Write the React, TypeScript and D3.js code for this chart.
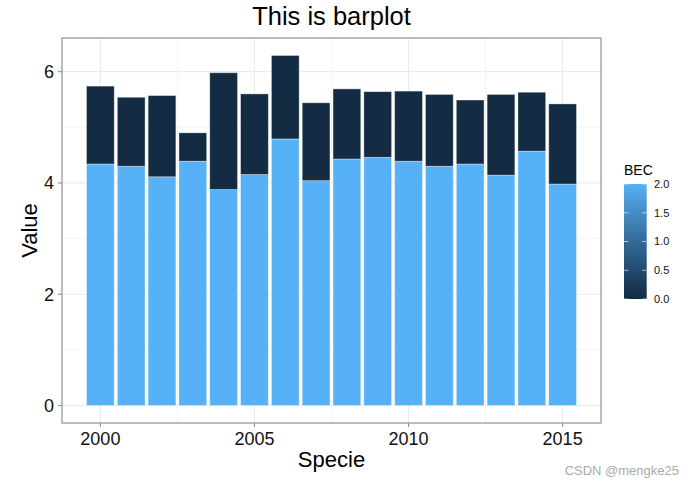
import React from "react";
import * as d3 from "d3";

const years = [2000, 2001, 2002, 2003, 2004, 2005, 2006, 2007, 2008, 2009, 2010, 2011, 2012, 2013, 2014, 2015];
const lightValues = [4.34, 4.30, 4.11, 4.39, 3.88, 4.15, 4.79, 4.04, 4.43, 4.46, 4.39, 4.30, 4.34, 4.14, 4.57, 3.98];
const darkValues = [1.40, 1.24, 1.46, 0.51, 2.10, 1.45, 1.50, 1.40, 1.26, 1.18, 1.26, 1.29, 1.15, 1.45, 1.06, 1.44];
const becLevels = [2, 0];
const yTicks = [0, 2, 4, 6];
const yMinor = [1, 3, 5];
const xTicks = [2000, 2005, 2010, 2015];
const xMinor = [2002.5, 2007.5, 2012.5];
const legendTicks = [0, 0.5, 1.0, 1.5, 2.0];

const W = 694, H = 487;
const P = { left: 62, right: 601, top: 38, bottom: 423 };
const FONT = "'Liberation Sans', Arial, sans-serif";

export default function App() {
  const totals = years.map((_, i) => lightValues[i] + darkValues[i]);
  const xLo = years[0] - 0.45, xHi = years[years.length - 1] + 0.45;
  const xPad = (xHi - xLo) * 0.05;
  const x = d3.scaleLinear().domain([xLo - xPad, xHi + xPad]).range([P.left, P.right]);
  const yMax = d3.max(totals) as number;
  const yPad = yMax * 0.05;
  const y = d3.scaleLinear().domain([-yPad, yMax + yPad]).range([P.bottom, P.top]);
  const color = d3.scaleLinear<string>().domain([0, 2]).range(["#132B43", "#56B1F7"]).interpolate(d3.interpolateLab);
  const bw = (x(1) - x(0)) * 0.9;

  const leg = { x: 624, w: 22.7, top: 184, bottom: 299 };
  const ly = d3.scaleLinear().domain([0, 2]).range([leg.bottom, leg.top]);
  const stops = d3.range(0, 1.0001, 0.1);

  return (
    <svg width={W} height={H} style={{ position: "absolute", left: 0, top: 0 }}>
      <defs>
        <linearGradient id="bec" x1="0" y1="1" x2="0" y2="0">
          {stops.map((t) => (
            <stop key={t} offset={`${t * 100}%`} stopColor={color(t * 2)} />
          ))}
        </linearGradient>
      </defs>
      <rect x={0} y={0} width={W} height={H} fill="#fff" />
      {/* grid */}
      {yMinor.map((v) => (
        <line key={"ym" + v} x1={P.left} x2={P.right} y1={y(v)} y2={y(v)} stroke="#f2f2f2" strokeWidth={0.8} />
      ))}
      {xMinor.map((v) => (
        <line key={"xm" + v} y1={P.top} y2={P.bottom} x1={x(v)} x2={x(v)} stroke="#f2f2f2" strokeWidth={0.8} />
      ))}
      {yTicks.map((v) => (
        <line key={"y" + v} x1={P.left} x2={P.right} y1={y(v)} y2={y(v)} stroke="#ebebeb" strokeWidth={1.1} />
      ))}
      {xTicks.map((v) => (
        <line key={"x" + v} y1={P.top} y2={P.bottom} x1={x(v)} x2={x(v)} stroke="#ebebeb" strokeWidth={1.1} />
      ))}
      {/* bars */}
      {years.map((yr, i) => {
        const segs = [
          { bec: becLevels[0], y0: 0, y1: lightValues[i] },
          { bec: becLevels[1], y0: lightValues[i], y1: lightValues[i] + darkValues[i] },
        ];
        return segs.map((s, j) => (
          <rect
            key={yr + "-" + j}
            x={x(yr) - bw / 2}
            width={bw}
            y={y(s.y1)}
            height={y(s.y0) - y(s.y1)}
            fill={color(s.bec)}
            stroke="#ffffff"
            strokeOpacity={0.45}
            strokeWidth={0.8}
          />
        ));
      })}
      {/* border */}
      <rect x={P.left} y={P.top} width={P.right - P.left} height={P.bottom - P.top} fill="none" stroke="#8f8f8f" strokeWidth={1.2} />
      {/* ticks */}
      {yTicks.map((v) => (
        <g key={"yt" + v}>
          <line x1={P.left - 4} x2={P.left} y1={y(v)} y2={y(v)} stroke="#8f8f8f" strokeWidth={1.1} />
          <text x={P.left - 8} y={y(v)} dy="0.36em" textAnchor="end" fontFamily={FONT} fontSize={18} fill="#111">
            {v}
          </text>
        </g>
      ))}
      {xTicks.map((v) => (
        <g key={"xt" + v}>
          <line y1={P.bottom} y2={P.bottom + 4} x1={x(v)} x2={x(v)} stroke="#8f8f8f" strokeWidth={1.1} />
          <text x={x(v)} y={445} textAnchor="middle" fontFamily={FONT} fontSize={18} fill="#111">
            {v}
          </text>
        </g>
      ))}
      {/* titles */}
      <text x={(P.left + P.right) / 2} y={25} textAnchor="middle" fontFamily={FONT} fontSize={25.5} fill="#000">
        This is barplot
      </text>
      <text x={(P.left + P.right) / 2} y={467} textAnchor="middle" fontFamily={FONT} fontSize={22} fill="#000">
        Specie
      </text>
      <text transform={`translate(36.5,${(P.top + P.bottom) / 2}) rotate(-90)`} textAnchor="middle" fontFamily={FONT} fontSize={22} fill="#000">
        Value
      </text>
      {/* legend */}
      <text x={leg.x} y={175} fontFamily={FONT} fontSize={14} fill="#000">
        BEC
      </text>
      <rect x={leg.x} y={leg.top} width={leg.w} height={leg.bottom - leg.top} fill="url(#bec)" />
      {legendTicks.map((v) => (
        <g key={"lt" + v}>
          <line x1={leg.x} x2={leg.x + 4.5} y1={ly(v)} y2={ly(v)} stroke="#fff" strokeOpacity={0.6} strokeWidth={1} />
          <line x1={leg.x + leg.w - 4.5} x2={leg.x + leg.w} y1={ly(v)} y2={ly(v)} stroke="#fff" strokeOpacity={0.6} strokeWidth={1} />
          <text x={654} y={ly(v)} dy="0.36em" fontFamily={FONT} fontSize={11} fill="#111">
            {v.toFixed(1)}
          </text>
        </g>
      ))}
      {/* watermark */}
      <text x={679} y={475} textAnchor="end" fontFamily={FONT} fontSize={13} fill="#aaaaaa">
        CSDN @mengke25
      </text>
    </svg>
  );
}
